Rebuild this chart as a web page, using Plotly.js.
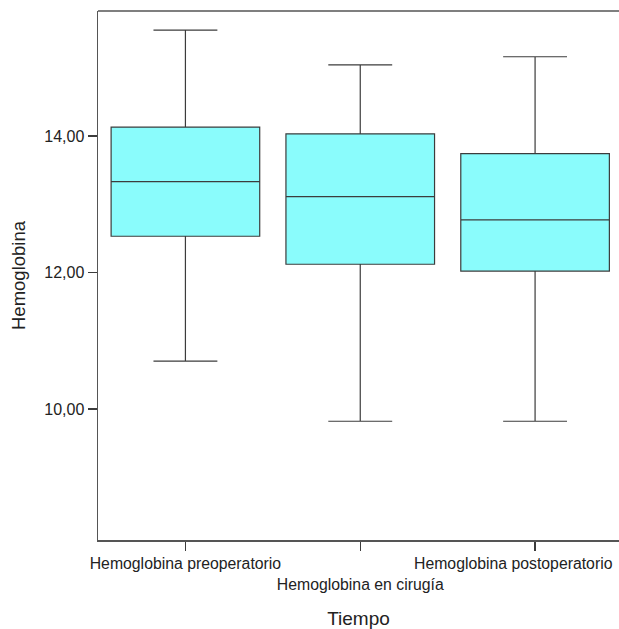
<!DOCTYPE html>
<html>
<head>
<meta charset="utf-8">
<script src="https://cdn.plot.ly/plotly-3.0.1.min.js"></script>
<style>html,body{margin:0;padding:0;overflow:hidden;background:#fff;}</style>
</head>
<body>
<div id="chart" style="width:619px;height:629px;"></div>
<script>
const categories = ["Hemoglobina preoperatorio", "Hemoglobina en cirugía", "Hemoglobina postoperatorio"];
const tickLabels = ["Hemoglobina preoperatorio", "<br>Hemoglobina en cirugía", "Hemoglobina postoperatorio"];
const lowerWhisker = [10.70, 9.82, 9.82];
const q1Values = [12.53, 12.12, 12.02];
const medianValues = [13.33, 13.11, 12.77];
const q3Values = [14.13, 14.03, 13.74];
const upperWhisker = [15.55, 15.04, 15.16];
const yTickVals = [10, 12, 14];
const yTickText = ["10,00", "12,00", "14,00"];

const trace = {
  type: "box",
  x: categories,
  q1: q1Values,
  median: medianValues,
  q3: q3Values,
  lowerfence: lowerWhisker,
  upperfence: upperWhisker,
  fillcolor: "#8afcfc",
  line: {color: "#3c3c3c", width: 1.2},
  width: 0.85,
  whiskerwidth: 0.43,
  boxpoints: false,
  hoverinfo: "none"
};

const fam = "Liberation Sans, Arial, sans-serif";
const tickFont = {size: 15.8, family: fam, color: "#222"};

// last label is drawn as an annotation so it can be nudged left to stay inside the page
const shownTicks = tickLabels.slice(0, 2).concat([""]);

const layout = {
  width: 619,
  height: 629,
  margin: {l: 98, r: 0, t: 11, b: 89},
  paper_bgcolor: "#fff",
  plot_bgcolor: "#fff",
  showlegend: false,
  font: {family: fam, color: "#222"},
  xaxis: {
    type: "category",
    range: [-0.5, 2.48],
    tickvals: categories,
    ticktext: shownTicks,
    tickangle: 0,
    ticks: "outside",
    ticklen: 9,
    tickcolor: "#3c3c3c",
    tickwidth: 1.2,
    showline: true,
    mirror: false,
    linecolor: "#555",
    linewidth: 1.5,
    showgrid: false,
    zeroline: false,
    tickfont: tickFont,
    title: {text: "Tiempo", font: {size: 19, family: fam, color: "#222"}, standoff: 22},
    automargin: false
  },
  yaxis: {
    range: [8.08, 15.83],
    tickvals: yTickVals,
    ticktext: yTickText,
    ticks: "outside",
    ticklen: 9,
    tickcolor: "#3c3c3c",
    tickwidth: 1.5,
    showline: true,
    linecolor: "#555",
    linewidth: 1.5,
    showgrid: false,
    zeroline: false,
    tickfont: {size: 16, family: fam, color: "#222"},
    title: {text: "Hemoglobina", font: {size: 18.5, family: fam, color: "#222"}, standoff: 14},
    automargin: false
  },
  annotations: [
    {xref: "x", yref: "paper", x: categories[2], y: 0, xanchor: "center", yanchor: "top",
     xshift: -22, yshift: -13, text: tickLabels[2], showarrow: false, font: tickFont}
  ],
  shapes: [
    {type: "line", xref: "paper", yref: "paper", x0: 0, x1: 1, y0: 1, y1: 1, line: {color: "#555", width: 1.5}}
  ]
};

Plotly.newPlot("chart", [trace], layout, {displayModeBar: false, staticPlot: true});
</script>
</body>
</html>
